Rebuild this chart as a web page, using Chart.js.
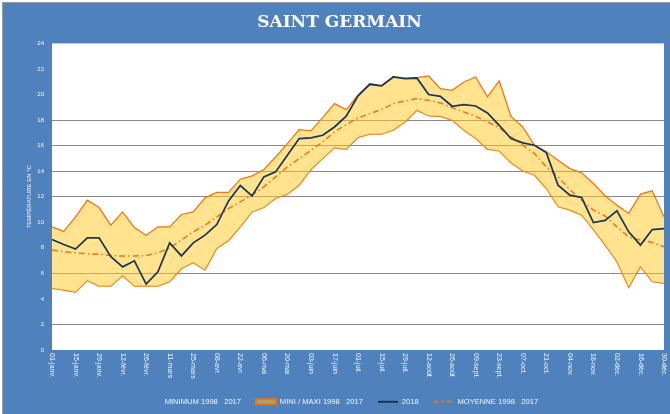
<!DOCTYPE html>
<html lang="fr">
<head>
<meta charset="utf-8">
<title>Saint Germain - températures</title>
<script src="https://cdn.jsdelivr.net/npm/chart.js@4.4.1/dist/chart.umd.min.js"></script>
<style>
  html, body { margin: 0; padding: 0; background: #fff; }
  #cadre {
    position: absolute; left: 2px; top: 2px;
    width: 667px; height: 411px;
    border-top: 1px solid #9a9a9a; border-left: 1px solid #9a9a9a;
  }
  canvas { display: block; }
</style>
</head>
<body>
<div id="cadre"><canvas id="graphe" width="667" height="411"></canvas></div>
<script>
// Semaines de l'année (une valeur tous les 7 jours)
const jours = [
  '01-janv.', '08-janv.', '15-janv.', '22-janv.', '29-janv.', '05-févr.', '12-févr.', '19-févr.', '26-févr.',
  '04-mars', '11-mars', '18-mars', '25-mars', '01-avr.', '08-avr.', '15-avr.', '22-avr.', '29-avr.',
  '06-mai', '13-mai', '20-mai', '27-mai', '03-juin', '10-juin', '17-juin', '24-juin',
  '01-juil.', '08-juil.', '15-juil.', '22-juil.', '29-juil.', '05-août', '12-août', '19-août', '26-août',
  '02-sept.', '09-sept.', '16-sept.', '23-sept.', '30-sept.', '07-oct.', '14-oct.', '21-oct.', '28-oct.',
  '04-nov.', '11-nov.', '18-nov.', '25-nov.', '02-déc.', '09-déc.', '16-déc.', '23-déc.', '30-déc.'
];

// Minimum 1998 - 2017
const minimum = [
  4.82, 4.69, 4.51, 5.42, 5.0, 5.0, 5.81, 5.0, 5.0, 5.0, 5.34, 6.36, 6.83, 6.25, 7.95, 8.55, 9.64, 10.81,
  11.15, 11.86, 12.2, 12.9, 14.13, 14.98, 15.82, 15.71, 16.63, 16.89, 16.89, 17.2, 17.85, 18.76, 18.32,
  18.29, 17.98, 17.2, 16.55, 15.71, 15.58, 14.65, 14.02, 13.68, 12.64, 11.21, 10.95, 10.55, 9.43, 8.21,
  6.91, 4.88, 6.52, 5.34, 5.21
];

// Maximum 1998 - 2017
const maximum = [
  9.64, 9.28, 10.42, 11.73, 11.15, 9.77, 10.81, 9.59, 8.99, 9.64, 9.64, 10.61, 10.81, 11.91, 12.33, 12.33,
  13.37, 13.63, 14.13, 15.11, 16.16, 17.25, 17.15, 18.19, 19.29, 18.82, 19.94, 20.85, 20.7, 21.4, 21.27,
  21.32, 21.45, 20.46, 20.33, 20.98, 21.37, 19.81, 21.06, 18.29, 17.46, 16.03, 15.51, 14.86, 14.2, 13.87,
  13.03, 12.07, 11.34, 10.69, 12.2, 12.46, 10.43
];

// Année 2018
const annee2018 = [
  8.65, 8.26, 7.9, 8.78, 8.78, 7.3, 6.51, 6.98, 5.16, 6.12, 8.39, 7.37, 8.39, 8.99, 9.82, 11.67, 12.87,
  12.06, 13.55, 13.94, 15.25, 16.55, 16.6, 16.81, 17.46, 18.3, 19.9, 20.8, 20.67, 21.37, 21.24, 21.29,
  20.0, 19.86, 19.08, 19.21, 19.1, 18.56, 17.59, 16.55, 16.21, 16.03, 15.45, 12.9, 12.12, 11.94, 9.98,
  10.14, 10.89, 9.25, 8.21, 9.43, 9.51
];

// Moyenne 1998 - 2017
const moyenne = [
  7.82, 7.7, 7.6, 7.53, 7.5, 7.4, 7.35, 7.35, 7.4, 7.6, 7.99, 8.6, 9.25, 9.77, 10.42, 11.07, 11.6, 12.12,
  12.77, 13.55, 14.33, 14.98, 15.63, 16.29, 17.07, 17.65, 18.16, 18.5, 18.82, 19.29, 19.49, 19.68, 19.55,
  19.34, 18.97, 18.63, 18.29, 17.85, 17.41, 16.68, 16.03, 15.38, 14.33, 13.55, 12.56, 11.73, 10.95, 10.48,
  9.64, 8.86, 8.6, 8.42, 8.08
];

// Lignes horizontales affichées sur l'axe des températures
const lignesY = [2, 6, 12, 14, 16, 18];

const BLEU = '#4F81BD';
const ORANGE = '#E8761A';
const JAUNE = 'rgba(255, 200, 30, 0.5)';
const MARINE = '#1B3557';
const TEXTE = '#F4F6FA';

// Fond bleu du cadre et zone de tracé blanche
const fondPlugin = {
  id: 'fond',
  beforeDraw(chart) {
    const { ctx, chartArea: a } = chart;
    ctx.save();
    ctx.fillStyle = BLEU;
    ctx.fillRect(0, 0, chart.width, chart.height);
    ctx.fillStyle = '#FFFFFF';
    ctx.fillRect(a.left, a.top, a.right - a.left, a.bottom - a.top);
    ctx.restore();
  }
};

// Dates sous l'axe, écrites verticalement (de haut en bas), une sur deux
const datesPlugin = {
  id: 'dates',
  afterDraw(chart) {
    const { ctx } = chart;
    const x = chart.scales.x;
    ctx.save();
    ctx.font = '7px "Liberation Sans"';
    ctx.fillStyle = TEXTE;
    ctx.textAlign = 'left';
    ctx.textBaseline = 'middle';
    jours.forEach((lab, i) => {
      if (i % 2) return;
      ctx.save();
      ctx.translate(x.getPixelForValue(i), x.top + 3);
      ctx.rotate(Math.PI / 2);
      ctx.fillText(lab, 0, 0);
      ctx.restore();
    });
    ctx.restore();
  }
};

// Pastilles de la légende
const styleLegende = [
  { pointStyle: 'line', strokeStyle: 'rgba(0,0,0,0)', fillStyle: 'rgba(0,0,0,0)', lineWidth: 0 },
  { pointStyle: 'rect', strokeStyle: ORANGE, fillStyle: JAUNE, lineWidth: 2 },
  { pointStyle: 'line', strokeStyle: MARINE, fillStyle: MARINE, lineWidth: 2 },
  { pointStyle: 'line', strokeStyle: ORANGE, fillStyle: ORANGE, lineWidth: 2, lineDash: [5, 3, 2, 3] }
];

new Chart(document.getElementById('graphe'), {
  type: 'line',
  data: {
    labels: jours,
    datasets: [
      {
        label: 'MINIMUM 1998   2017',
        data: minimum,
        borderColor: ORANGE,
        borderWidth: 1.25,
        fill: false,
        order: 3
      },
      {
        label: 'MINI / MAXI 1998   2017',
        data: maximum,
        borderColor: ORANGE,
        borderWidth: 1.25,
        backgroundColor: JAUNE,
        fill: '-1',
        order: 2
      },
      {
        label: '2018',
        data: annee2018,
        borderColor: MARINE,
        borderWidth: 1.75,
        fill: false,
        order: 0
      },
      {
        label: 'MOYENNE 1998   2017',
        data: moyenne,
        borderColor: ORANGE,
        borderWidth: 1.5,
        borderDash: [6, 3, 1.5, 3],
        fill: false,
        order: 1
      }
    ]
  },
  options: {
    responsive: false,
    animation: false,
    events: [],
    layout: { padding: { left: 12, right: 6, top: 0, bottom: 7 } },
    elements: {
      point: { radius: 0 },
      line: { tension: 0 }
    },
    scales: {
      x: {
        grid: { display: false },
        border: { display: false },
        ticks: { display: false },
        afterFit(scale) { scale.height = 33; }
      },
      y: {
        min: 0,
        max: 24,
        ticks: {
          stepSize: 2,
          padding: 8,
          color: TEXTE,
          font: { family: 'Liberation Sans', size: 6 }
        },
        grid: {
          drawTicks: false,
          lineWidth: 1,
          color: (c) => lignesY.includes(c.tick && c.tick.value) ? '#8A8A8A' : 'rgba(0,0,0,0)'
        },
        border: { display: false },
        title: {
          display: true,
          text: 'TEMPÉRATURE EN °C',
          color: TEXTE,
          font: { family: 'Liberation Sans', size: 6 },
          padding: { top: 11, bottom: 0 }
        },
        afterFit(scale) { scale.width = 37; }
      }
    },
    plugins: {
      title: {
        display: true,
        text: 'SAINT GERMAIN',
        color: '#FFFFFF',
        font: { family: 'DejaVu Serif', size: 17, weight: 'bold' },
        padding: { top: 9, bottom: 11 }
      },
      legend: {
        position: 'bottom',
        maxHeight: 24,
        labels: {
          usePointStyle: true,
          pointStyleWidth: 20,
          boxHeight: 5,
          padding: 15,
          color: TEXTE,
          font: { family: 'Liberation Sans', size: 7.6 },
          generateLabels(chart) {
            return chart.data.datasets.map((ds, i) => Object.assign({
              text: ds.label,
              datasetIndex: i,
              fontColor: TEXTE,
              hidden: false
            }, styleLegende[i]));
          }
        }
      },
      tooltip: { enabled: false }
    }
  },
  plugins: [fondPlugin, datesPlugin]
});
</script>
</body>
</html>
